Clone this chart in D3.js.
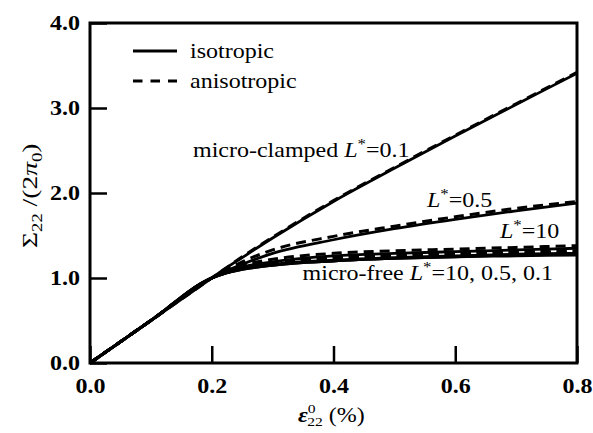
<!DOCTYPE html>
<html>
<head>
<meta charset="utf-8">
<script src="https://cdn.jsdelivr.net/npm/d3@7"></script>
<style>
  body { margin: 0; background: #fff; }
  text { font-family: "Liberation Serif", "Times New Roman", serif; fill: #000; }
</style>
</head>
<body>
<div id="chart"></div>
<script>
"use strict"

// strain values (%) where the curves were read
const strain = [0, 0.1, 0.2, 0.22, 0.25, 0.3, 0.4, 0.5, 0.6, 0.7, 0.8];

// micro-clamped curves
const clamped01Iso   = [0, 0.5, 1.0, 1.10, 1.24, 1.47, 1.90, 2.29, 2.67, 3.04, 3.41];
const clamped01Aniso = [0, 0.5, 1.0, 1.10, 1.25, 1.48, 1.91, 2.30, 2.68, 3.05, 3.42];
const clamped05Iso   = [0, 0.5, 1.0, 1.07, 1.16, 1.29, 1.45, 1.58, 1.69, 1.79, 1.88];
const clamped05Aniso = [0, 0.5, 1.0, 1.08, 1.19, 1.33, 1.49, 1.61, 1.72, 1.82, 1.90];
const clamped10Iso   = [0, 0.5, 1.0, 1.06, 1.13, 1.19, 1.26, 1.29, 1.31, 1.33, 1.35];
const clamped10Aniso = [0, 0.5, 1.0, 1.07, 1.15, 1.22, 1.29, 1.32, 1.34, 1.36, 1.38];

// micro-free curves (L* = 10, 0.5, 0.1)
const free10Iso   = [0, 0.5, 1.0, 1.05, 1.11, 1.16, 1.21, 1.24, 1.26, 1.28, 1.29];
const free05Iso   = [0, 0.5, 1.0, 1.05, 1.10, 1.15, 1.20, 1.23, 1.25, 1.27, 1.28];
const free01Iso   = [0, 0.5, 1.0, 1.05, 1.10, 1.15, 1.20, 1.23, 1.25, 1.26, 1.27];
const free10Aniso = [0, 0.5, 1.0, 1.06, 1.13, 1.18, 1.24, 1.27, 1.29, 1.31, 1.32];
const free05Aniso = [0, 0.5, 1.0, 1.06, 1.12, 1.17, 1.23, 1.26, 1.28, 1.30, 1.31];
const free01Aniso = [0, 0.5, 1.0, 1.06, 1.12, 1.17, 1.23, 1.26, 1.28, 1.29, 1.30];

const xTicks = [0, 0.2, 0.4, 0.6, 0.8];
const yTicks = [0, 1, 2, 3, 4];

const isoSeries = [clamped01Iso, clamped05Iso, clamped10Iso, free10Iso, free05Iso, free01Iso];
const anisoSeries = [clamped01Aniso, clamped05Aniso, clamped10Aniso, free10Aniso, free05Aniso, free01Aniso];

let svgWidth = 593;
let svgHeight = 433;
let stretch = 1.2; // the scanned figure is wider than plain Times

var svg = d3.select('#chart')
  .append('svg')
  .attr('width', svgWidth)
  .attr('height', svgHeight);

let xScale = d3.scaleLinear().domain([0, 0.8]).range([90, 577]);
let yScale = d3.scaleLinear().domain([0, 4]).range([363, 23]);

/***************************************
 AXES
***************************************/
const xAxis = d3.axisBottom(xScale)
  .tickValues(xTicks)
  .tickFormat(d3.format('.1f'))
  .tickSizeInner(-17)
  .tickSizeOuter(0)
  .tickPadding(16);

const yAxis = d3.axisLeft(yScale)
  .tickValues(yTicks)
  .tickFormat(d3.format('.1f'))
  .tickSizeInner(-17)
  .tickSizeOuter(0)
  .tickPadding(8.3);

let gx = svg.append('g')
  .attr('transform', 'translate(0,' + yScale(0) + ')')
  .call(xAxis);
let gy = svg.append('g')
  .attr('transform', 'translate(' + xScale(0) + ',0)')
  .call(yAxis);

[gx, gy].forEach(g => {
  g.select('.domain').remove();
  g.selectAll('line').attr('stroke', '#000').attr('stroke-width', 2.5);
  g.selectAll('text')
    .attr('font-family', '"Liberation Serif", serif')
    .attr('font-size', 20)
    .attr('font-weight', 'bold')
    .attr('fill', '#000')
    .attr('transform', 'scale(' + stretch + ',1)');
});
gy.selectAll('text').attr('dy', '0.33em');

// frame
svg.append('rect')
  .attr('x', xScale(0))
  .attr('y', yScale(4))
  .attr('width', xScale(0.8) - xScale(0))
  .attr('height', yScale(0) - yScale(4))
  .attr('fill', 'none')
  .attr('stroke', '#000')
  .attr('stroke-width', 3);

/***************************************
 CURVES
***************************************/
let line = d3.line()
  .x((d, i) => xScale(strain[i]))
  .y(d => yScale(d))
  .curve(d3.curveMonotoneX);

svg.selectAll('.iso')
  .data(isoSeries)
  .enter()
  .append('path')
  .attr('class', 'iso')
  .attr('d', line)
  .attr('fill', 'none')
  .attr('stroke', '#000')
  .attr('stroke-width', 2.8);

svg.selectAll('.aniso')
  .data(anisoSeries)
  .enter()
  .append('path')
  .attr('class', 'aniso')
  .attr('d', line)
  .attr('fill', 'none')
  .attr('stroke', '#000')
  .attr('stroke-width', 3)
  .attr('stroke-dasharray', '10,6');

/***************************************
 LEGEND
***************************************/
svg.append('line')
  .attr('x1', 133).attr('x2', 177).attr('y1', 51).attr('y2', 51)
  .attr('stroke', '#000').attr('stroke-width', 3);
svg.append('line')
  .attr('x1', 133).attr('x2', 177).attr('y1', 81).attr('y2', 81)
  .attr('stroke', '#000').attr('stroke-width', 3)
  .attr('stroke-dasharray', '9.5,8');

function label(x, y, anchor) {
  return svg.append('text')
    .attr('transform', 'translate(' + x + ',' + y + ') scale(' + stretch + ',1)')
    .attr('text-anchor', anchor || 'start')
    .attr('font-size', 20);
}

label(190, 58).text('isotropic');
label(190, 88).text('anisotropic');

// "L*" with italic L and raised star
function addL(t) {
  t.append('tspan').attr('font-style', 'italic').text('L');
  t.append('tspan').attr('dy', -8).attr('font-size', 14).text('*');
  t.append('tspan').attr('dy', 8).text('=');
}

let t1 = label(193, 157);
t1.append('tspan').text('micro-clamped ');
addL(t1);
t1.append('tspan').text('0.1');

let t2 = label(427, 207);
addL(t2);
t2.append('tspan').text('0.5');

let t3 = label(500, 238);
addL(t3);
t3.append('tspan').text('10');

let t4 = label(553, 280, 'end');
t4.append('tspan').text('micro-free ');
addL(t4);
t4.append('tspan').text('10, 0.5, 0.1');

/***************************************
 AXIS TITLES
***************************************/
let xt = label(298, 422);
xt.append('tspan').attr('font-style', 'italic').attr('font-weight', 'bold').text('ε');
xt.append('tspan').attr('font-size', 13).attr('dy', -9).text('0');
xt.append('tspan').attr('font-size', 13).attr('dx', -7).attr('dy', 13).text('22');
xt.append('tspan').attr('dy', -4).text(' (%)');

let yt = svg.append('text')
  .attr('transform', 'translate(37,248) rotate(-90) scale(1.25,1)')
  .attr('font-size', 22);
yt.append('tspan').text('Σ');
yt.append('tspan').attr('font-size', 15).attr('dy', 5).text('22');
yt.append('tspan').attr('dy', -5).text(' /(2');
yt.append('tspan').attr('font-style', 'italic').text('π');
yt.append('tspan').attr('font-size', 15).attr('dy', 5).text('0');
yt.append('tspan').attr('dy', -5).text(')');
</script>
</body>
</html>
